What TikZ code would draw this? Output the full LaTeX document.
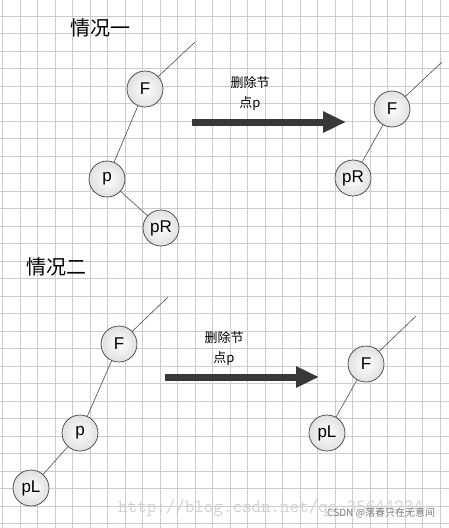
\documentclass[tikz,border=0pt]{standalone}
\usepackage{fontspec}
\setmainfont{Liberation Sans}
\newfontfamily\cjk{Noto Sans CJK SC}
\usetikzlibrary{arrows.meta}

\begin{document}
\begin{tikzpicture}[x=1pt, y=-1pt,
    treenode/.style={circle, draw=black!75, line width=0.7pt, inner color=white, outer color=black!12,
        minimum size=36pt, inner sep=0pt, font=\fontsize{17}{17}\selectfont},
    edge/.style={draw=black!70, line width=0.6pt},
    gridline/.style={draw=black!20, line width=0.6pt},
    bigarrow/.style={draw=black!78, line width=7pt, -{Triangle[length=23pt, width=20pt]}},
    casetitle/.style={font=\cjk\fontsize{20}{20}\selectfont},
    caption/.style={font=\cjk\fontsize{13}{20}\selectfont, align=center}]

    \useasboundingbox (0,0) rectangle (449,528);
    \fill[white] (0,0) rectangle (449,528);

    % Draw the grid
    \foreach \i in {0,...,25}
        \draw[gridline] ({2.7+17.5*\i},0) -- ++(0,528);
    \foreach \j in {0,...,29}
        \draw[gridline] (0,{16+17.5*\j}) -- ++(449,0);

    % Case one: before
    \node[casetitle] (t1) at (100,28) {情况一};
    \node[treenode] (F1) at (145,89) {F};
    \node[treenode] (p1) at (107,179) {p};
    \node[treenode] (pR1) at (161,228) {pR};
    \coordinate (up1) at (195,42);
    \draw[edge] (F1) -- (up1);
    \draw[edge] (F1) -- (p1);
    \draw[edge] (p1) -- (pR1);

    % Case one: delete p
    \node[caption] (c1) at (250,93) {删除节\\点p};
    \coordinate (a1s) at (192,122);
    \coordinate (a1e) at (346,122);
    \draw[bigarrow] (a1s) -- (a1e);

    % Case one: after
    \node[treenode] (F1b) at (392,109) {F};
    \node[treenode] (pR1b) at (353,178) {pR};
    \coordinate (up1b) at (442,62);
    \draw[edge] (F1b) -- (up1b);
    \draw[edge] (F1b) -- (pR1b);

    % Case two: before
    \node[casetitle] (t2) at (57,267) {情况二};
    \node[treenode] (F2) at (119,344) {F};
    \node[treenode] (p2) at (80,433) {p};
    \node[treenode] (pL2) at (31,488) {pL};
    \coordinate (up2) at (168,297);
    \draw[edge] (F2) -- (up2);
    \draw[edge] (F2) -- (p2);
    \draw[edge] (p2) -- (pL2);

    % Case two: delete p
    \node[caption] (c2) at (224,348) {删除节\\点p};
    \coordinate (a2s) at (165,377);
    \coordinate (a2e) at (319,377);
    \draw[bigarrow] (a2s) -- (a2e);

    % Case two: after
    \node[treenode] (F2b) at (366,364) {F};
    \node[treenode] (pL2b) at (327,433) {pL};
    \coordinate (up2b) at (416,316);
    \draw[edge] (F2b) -- (up2b);
    \draw[edge] (F2b) -- (pL2b);

    % Watermarks
    \node[anchor=west, inner sep=0pt, text=black!18, font=\ttfamily\fontsize{18.5}{20}\selectfont]
        (wm) at (118,508) {http://blog.csdn.net/qq\_35644234};
    \node[anchor=west, inner sep=0pt, text=black!50, font=\cjk\fontsize{10}{12}\selectfont]
        (csdn) at (327,513) {CSDN @落春只在无意间};
\end{tikzpicture}
\end{document}
